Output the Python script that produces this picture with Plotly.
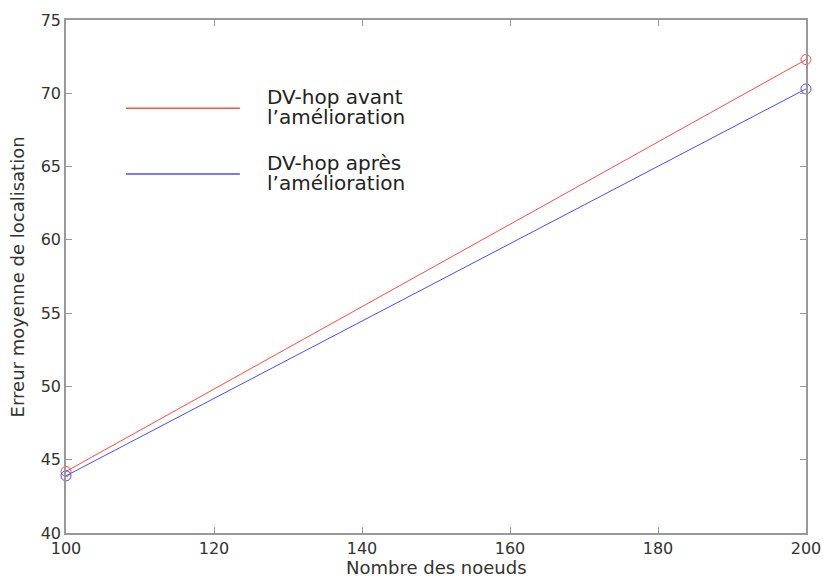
import plotly.graph_objects as go

nodes = [100, 200]
avant = [44.2, 72.3]
apres = [43.9, 70.3]
x_ticks = [100, 120, 140, 160, 180, 200]
y_ticks = [40, 45, 50, 55, 60, 65, 70, 75]
legend_labels = [("DV-hop avant", "l\u2019amélioration"), ("DV-hop après", "l\u2019amélioration")]
colors = ["#ff4d4d", "#4d4dff"]
x_title = "Nombre des noeuds"
y_title = "Erreur moyenne de localisation"

FONT = "DejaVu Sans"
fig = go.Figure()
for ys, c in zip([avant, apres], colors):
    fig.add_trace(go.Scatter(x=nodes, y=ys, mode="lines+markers",
                             line=dict(color=c, width=1),
                             marker=dict(symbol="circle-open", size=10, color=c, line=dict(width=1)),
                             showlegend=False, cliponaxis=False))

# manual legend
leg_y = [0.828, 0.700]
for (l1, l2), c, yy in zip(legend_labels, colors, leg_y):
    fig.add_shape(type="line", xref="paper", yref="paper", x0=0.081, x1=0.235, y0=yy, y1=yy,
                  line=dict(color=c, width=1.5))
    fig.add_annotation(xref="paper", yref="paper", x=0.269, y=yy + 0.022, text=l1, showarrow=False,
                       xanchor="left", yanchor="middle", font=dict(family=FONT, size=20, color="#222"))
    fig.add_annotation(xref="paper", yref="paper", x=0.269, y=yy - 0.017, text=l2, showarrow=False,
                       xanchor="left", yanchor="middle", font=dict(family=FONT, size=20, color="#222"))

# axis titles
fig.add_annotation(xref="paper", yref="paper", x=0.5, y=-0.068, text=x_title, showarrow=False,
                   xanchor="center", yanchor="middle", font=dict(family=FONT, size=18, color="#333"))
fig.add_annotation(xref="paper", yref="paper", x=-0.065, y=0.5, text=y_title, showarrow=False,
                   textangle=-90, xanchor="center", yanchor="middle",
                   font=dict(family=FONT, size=18, color="#333"))

axis_common = dict(showline=True, linecolor="#999", linewidth=1.5, mirror="ticks",
                   ticks="inside", ticklen=6, tickcolor="#999", showgrid=False, zeroline=False,
                   automargin=False, tickfont=dict(family=FONT, size=16, color="#333"))
fig.update_xaxes(range=[100, 200], tickvals=x_ticks, **axis_common)
fig.update_yaxes(range=[40, 75], tickvals=y_ticks, **axis_common)
fig.update_layout(width=823, height=578, margin=dict(l=66, r=17, t=20, b=45),
                  plot_bgcolor="white", paper_bgcolor="white")
fig.write_html("out.html")
